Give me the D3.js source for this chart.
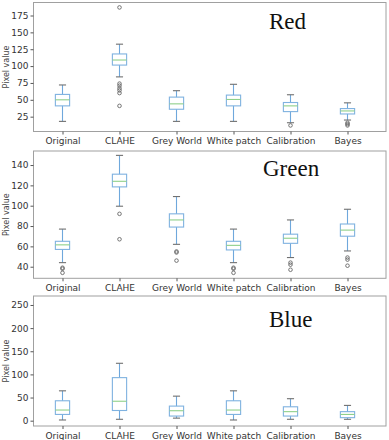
<!DOCTYPE html>
<html>
<head>
<meta charset="utf-8">
<script src="https://cdn.jsdelivr.net/npm/d3@7"></script>
<style>
  body { margin: 0; background: #fff; }
  .tick text { font-family: "DejaVu Sans", sans-serif; font-size: 9px; fill: #333; }
</style>
</head>
<body>
<div class="chart"></div>
<script>
const methods = ["Original", "CLAHE", "Grey World", "White patch", "Calibration", "Bayes"];

// [low whisker, q1, median, q3, high whisker]
const redStats = [
  [18, 41, 50, 58, 72],
  [84, 101.5, 109, 118, 132.5],
  [18, 36, 44, 54, 63.5],
  [18, 41, 50.5, 57, 73],
  [16, 32.5, 41, 46, 57.5],
  [20, 29, 33.5, 37, 45.5]
];
const redOutliers = [[], [187, 74, 71, 67, 64, 60, 41], [], [], [12], [16, 14, 12]];

const greenStats = [
  [44, 57, 61.5, 65, 77],
  [99.5, 118.5, 124, 131, 149.5],
  [62, 79, 86, 92, 109],
  [44, 56.5, 61, 65, 77],
  [49, 63, 68, 72, 86],
  [55.5, 70, 76, 82, 96.5]
];
const greenOutliers = [[39, 38, 34], [92, 67], [55, 54, 46], [39, 38, 34], [44, 42, 37], [49, 47, 41]];

const blueStats = [
  [1.5, 13.5, 23, 43, 64.5],
  [3, 22, 42, 93, 124],
  [5.5, 10, 21.5, 31.5, 53],
  [1.5, 13.5, 23, 43, 64.5],
  [3, 10, 19.5, 30, 47.5],
  [3, 6.5, 13.5, 19.5, 33]
];
const blueOutliers = [[], [], [], [], [], []];

const redTicks = [25, 50, 75, 100, 125, 150, 175];
const greenTicks = [40, 60, 80, 100, 120, 140];
const blueTicks = [0, 50, 100, 150, 200, 250];

const panels = [
  { title: "Red", stats: redStats, outliers: redOutliers, ticks: redTicks, domain: [3, 194.3], top: 2.5, bottom: 131.5, titleX: 269, titleY: 29 },
  { title: "Green", stats: greenStats, outliers: greenOutliers, ticks: greenTicks, domain: [28.6, 153.8], top: 151, bottom: 278.3, titleX: 263, titleY: 176 },
  { title: "Blue", stats: blueStats, outliers: blueOutliers, ticks: blueTicks, domain: [-11.5, 269.4], top: 296, bottom: 426, titleX: 269, titleY: 327 }
];

const W = 389, H = 440;
const left = 33.5, right = 386;

const svg = d3.select(".chart").append("svg")
  .attr("width", W)
  .attr("height", H);

const x = d3.scaleLinear()
  .domain([0.5, 6.5])
  .range([34, 376]);
const boxW = x(1.25) - x(1);

panels.forEach(p => {
  const y = d3.scaleLinear()
    .domain(p.domain)
    .range([p.bottom, p.top]);

  const g = svg.append("g");

  // frame
  g.append("rect")
    .attr("x", left)
    .attr("y", p.top)
    .attr("width", right - left)
    .attr("height", p.bottom - p.top)
    .attr("fill", "none")
    .attr("stroke", "#a0a0a0")
    .attr("stroke-width", 1);

  // axes
  const yAxis = g.append("g")
    .attr("transform", `translate(${left},0)`)
    .call(d3.axisLeft(y).tickValues(p.ticks).tickSize(3).tickPadding(2));
  yAxis.select(".domain").remove();
  yAxis.selectAll(".tick line").attr("stroke", "#555");

  const xAxis = g.append("g")
    .attr("transform", `translate(0,${p.bottom})`)
    .call(d3.axisBottom(x).tickValues(d3.range(1, 7)).tickFormat(i => methods[i - 1]).tickSize(3).tickPadding(3));
  xAxis.select(".domain").remove();
  xAxis.selectAll(".tick line").attr("stroke", "#555");
  xAxis.selectAll(".tick text").attr("dy", "0.75em");

  g.append("text")
    .attr("transform", `translate(9,${(p.top + p.bottom) / 2}) rotate(-90)`)
    .attr("text-anchor", "middle")
    .style("font-family", "DejaVu Sans, sans-serif")
    .style("font-size", "8px")
    .style("fill", "#444")
    .text("Pixel value");

  g.append("text")
    .attr("x", p.titleX)
    .attr("y", p.titleY)
    .style("font-family", "Liberation Serif, serif")
    .style("font-size", "23px")
    .style("fill", "#111")
    .text(p.title);

  const boxes = g.selectAll(".box")
    .data(p.stats)
    .enter()
    .append("g")
    .attr("class", "box");

  // whiskers
  boxes.append("line")
    .attr("x1", (d, i) => x(i + 1)).attr("x2", (d, i) => x(i + 1))
    .attr("y1", d => y(d[0])).attr("y2", d => y(d[1]))
    .attr("stroke", "#6fa8dc").attr("stroke-width", 1.1);
  boxes.append("line")
    .attr("x1", (d, i) => x(i + 1)).attr("x2", (d, i) => x(i + 1))
    .attr("y1", d => y(d[3])).attr("y2", d => y(d[4]))
    .attr("stroke", "#6fa8dc").attr("stroke-width", 1.1);

  // caps
  [0, 4].forEach(k => {
    boxes.append("line")
      .attr("x1", (d, i) => x(i + 1) - boxW / 4).attr("x2", (d, i) => x(i + 1) + boxW / 4)
      .attr("y1", d => y(d[k])).attr("y2", d => y(d[k]))
      .attr("stroke", "#707070").attr("stroke-width", 1.1);
  });

  // box
  boxes.append("rect")
    .attr("x", (d, i) => x(i + 1) - boxW / 2)
    .attr("width", boxW)
    .attr("y", d => y(d[3]))
    .attr("height", d => y(d[1]) - y(d[3]))
    .attr("fill", "none")
    .attr("stroke", "#7fb2e0")
    .attr("stroke-width", 1.1);

  // median
  boxes.append("line")
    .attr("x1", (d, i) => x(i + 1) - boxW / 2).attr("x2", (d, i) => x(i + 1) + boxW / 2)
    .attr("y1", d => y(d[2])).attr("y2", d => y(d[2]))
    .attr("stroke", "#8fd08a").attr("stroke-width", 1.1);

  // outliers
  p.outliers.forEach((arr, i) => {
    g.selectAll(null)
      .data(arr)
      .enter()
      .append("circle")
      .attr("cx", x(i + 1))
      .attr("cy", d => y(d))
      .attr("r", 1.8)
      .attr("fill", "none")
      .attr("stroke", "#666")
      .attr("stroke-width", 0.9);
  });
});
</script>
</body>
</html>
